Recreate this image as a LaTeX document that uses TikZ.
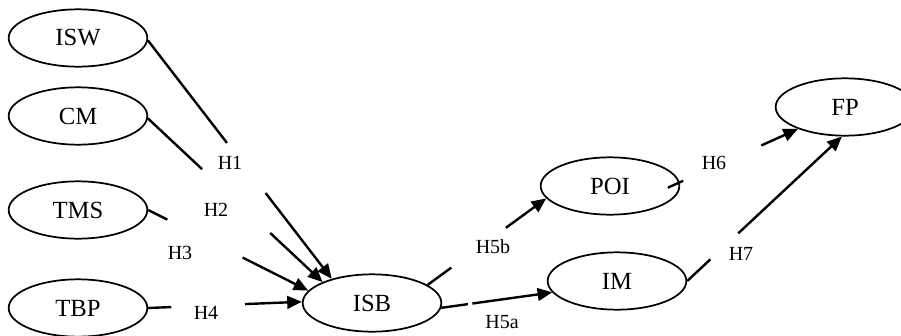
\documentclass[tikz,border=0pt]{standalone}
\usepackage{fontspec}
\setmainfont{Liberation Serif}
\usetikzlibrary{shapes.geometric,arrows.meta}
\tikzset{
  construct/.style={draw, ellipse, line width=1.3pt, minimum width=104pt, minimum height=43pt, inner sep=0pt, font=\fontsize{18.5}{20}\selectfont},
  hyp/.style={inner sep=0pt, font=\fontsize{15}{17}\selectfont},
  link/.style={line width=1.8pt},
  linkarrow/.style={link, -{Triangle[length=11pt,width=9.5pt]}}
}
\begin{document}
\begin{tikzpicture}[x=0.75pt,y=0.75pt,yscale=-1,xscale=1]
    \useasboundingbox (0,0) rectangle (901,336);

    % Constructs
    \node[construct] (isw) at (78,38) {ISW};
    \node[construct] (cm) at (78,116) {CM};
    \node[construct] (tms) at (78,210) {TMS};
    \node[construct] (tbp) at (78,308) {TBP};
    \node[construct] (isb) at (372,303) {ISB};
    \node[construct] (poi) at (610,186) {POI};
    \node[construct] (im) at (617,281) {IM};
    \node[construct] (fp) at (845,107) {FP};

    % Hypotheses
    \node[hyp] (h1) at (230,163) {H1};
    \node[hyp] (h2) at (216,210) {H2};
    \node[hyp] (h3) at (180,253) {H3};
    \node[hyp] (h4) at (206,313) {H4};
    \node[hyp] (h5b) at (493,247) {H5b};
    \node[hyp] (h5a) at (502,322) {H5a};
    \node[hyp] (h6) at (714,163) {H6};
    \node[hyp] (h7) at (741,254) {H7};

    % H1
    \path (isw.-2) -- (isb.149) coordinate[pos=0.43] (h1a) coordinate[pos=0.64] (h1b);
    \draw[link] (isw.-2) -- (h1a);
    \draw[linkarrow] (h1b) -- (isb.149);
    % H2
    \path (cm.-2) -- (isb.157) coordinate[pos=0.31] (h2a) coordinate[pos=0.70] (h2b);
    \draw[link] (cm.-2) -- (h2a);
    \draw[linkarrow] (h2b) -- (isb.157);
    % H3
    \path (tms.east) -- (isb.169) coordinate[pos=0.12] (h3a) coordinate[pos=0.59] (h3b);
    \draw[link] (tms.east) -- (h3a);
    \draw[linkarrow] (h3b) -- (isb.169);
    % H4
    \path (tbp.east) -- (isb.179) coordinate[pos=0.15] (h4a) coordinate[pos=0.63] (h4b);
    \draw[link] (tbp.east) -- (h4a);
    \draw[linkarrow] (h4b) -- (isb.179);
    % H5b
    \path (isb.18) -- (poi.191) coordinate[pos=0.20] (h5ba) coordinate[pos=0.66] (h5bb);
    \draw[link] (isb.18) -- (h5ba);
    \draw[linkarrow] (h5bb) -- (poi.191);
    % H5a
    \path (isb.-4) -- (im.190) coordinate[pos=0.24] (h5aa) coordinate[pos=0.28] (h5ab);
    \draw[link] (isb.-4) -- (h5aa);
    \draw[linkarrow] (h5ab) -- (im.190);
    % H6
    \path (poi.3) -- (fp.205) coordinate[pos=-0.1] (h6o) coordinate[pos=0.03] (h6a) coordinate[pos=0.69] (h6b);
    \draw[link] (h6o) -- (h6a);
    \draw[linkarrow] (h6b) -- (fp.205);
    % H7
    \path (im.east) -- (fp.264) coordinate[pos=0.15] (h7a) coordinate[pos=0.33] (h7b);
    \draw[link] (im.east) -- (h7a);
    \draw[linkarrow] (h7b) -- (fp.264);
\end{tikzpicture}
\end{document}
